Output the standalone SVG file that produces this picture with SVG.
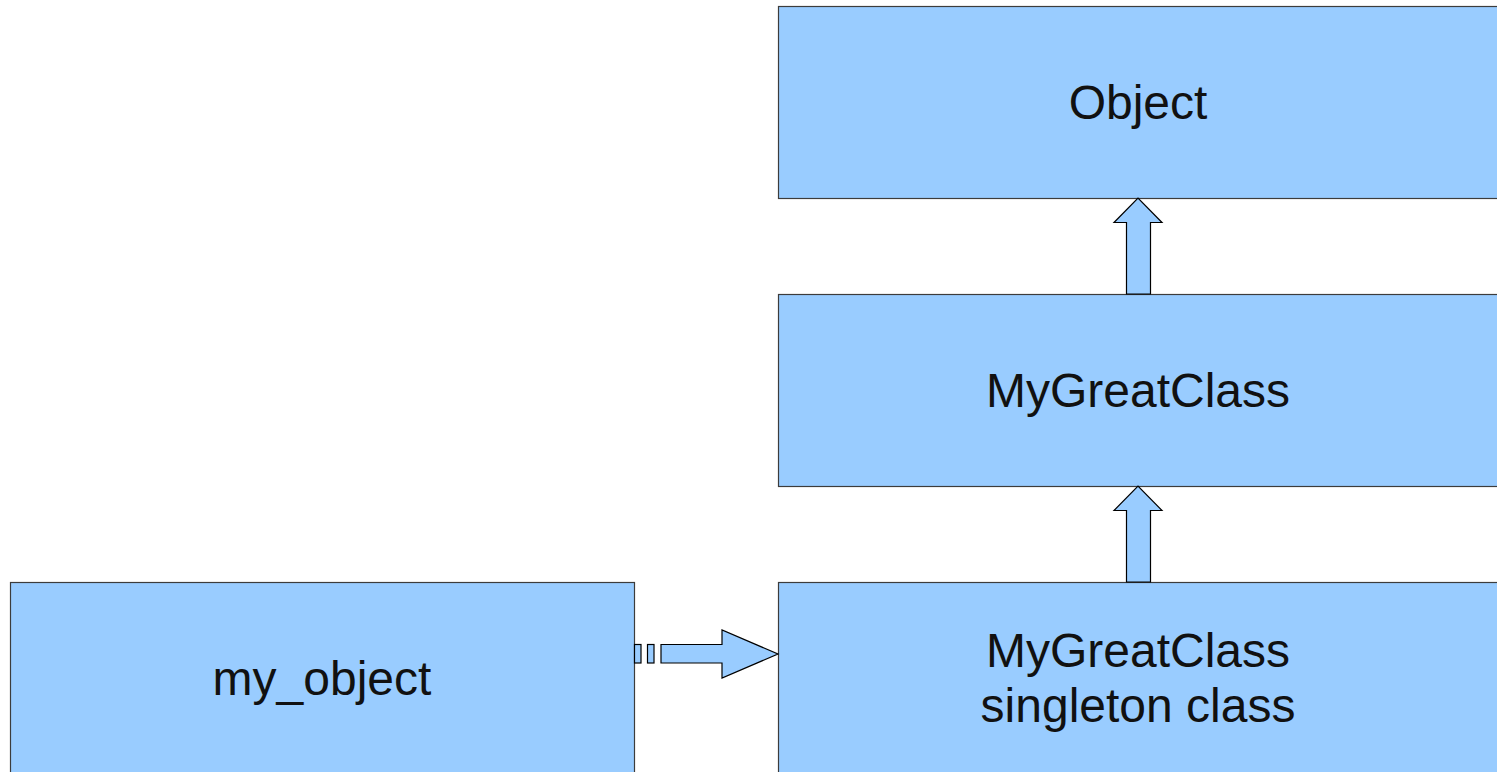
<svg xmlns="http://www.w3.org/2000/svg" width="1497" height="772" viewBox="0 0 1497 772">
  <style>
    .box { fill: #99ccff; stroke: #3c3c3c; stroke-width: 1.2; }
    .arrow { fill: #99ccff; stroke: #000; stroke-width: 1.2; stroke-linejoin: miter; }
    .label { font-family: "Liberation Sans", Arial, sans-serif; font-size: 48px; fill: #111; text-anchor: middle; }
  </style>
  <rect width="1497" height="772" fill="#fff"/>
  <g id="object">
    <rect class="box" x="778.5" y="6.5" width="740" height="192"/>
    <text class="label" x="1138" y="119">Object</text>
  </g>
  <g id="mygreatclass">
    <rect class="box" x="778.5" y="294.5" width="740" height="192"/>
    <text class="label" x="1138" y="407">MyGreatClass</text>
  </g>
  <g id="singleton">
    <rect class="box" x="778.5" y="582.5" width="740" height="220"/>
    <text class="label" x="1138" y="667">MyGreatClass</text>
    <text class="label" x="1138" y="722">singleton class</text>
  </g>
  <g id="my_object">
    <rect class="box" x="10.5" y="582.5" width="624" height="220"/>
    <text class="label" x="322" y="695">my_object</text>
  </g>
  <g id="connectors">
    <polygon class="arrow" points="1126.5,294 1126.5,222.5 1114,222.5 1138,198 1162,222.5 1150.5,222.5 1150.5,294"/>
    <polygon class="arrow" points="1126.5,582 1126.5,510.5 1114,510.5 1138,486 1162,510.5 1150.5,510.5 1150.5,582"/>
    <rect class="arrow" x="634.5" y="644.5" width="6.5" height="18.5"/>
    <rect class="arrow" x="647.5" y="644.5" width="6.5" height="18.5"/>
    <polygon class="arrow" points="661,644.5 722,644.5 722,630 778,654 722,678 722,663 661,663"/>
  </g>
</svg>
